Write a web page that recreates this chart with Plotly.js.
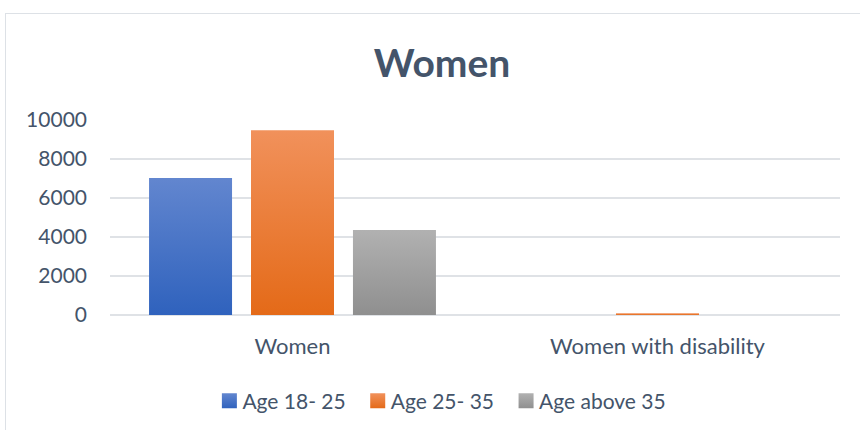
<!DOCTYPE html>
<html>
<head>
<meta charset="utf-8">
<script src="https://cdn.plot.ly/plotly-3.0.1.min.js"></script>
<style>
  body { margin: 0; overflow: hidden; background: #fff; }
  #graph { position: absolute; left: 0; top: 0; width: 860px; height: 430px; }
  #frame { position: absolute; left: 5px; top: 13px; width: 900px; height: 450px;
           border: 1.5px solid #dde1e6; pointer-events: none; }
</style>
</head>
<body>
<div id="graph"></div>
<div id="frame"></div>
<script>
const categories = ['Women', 'Women with disability'];
const seriesNames = ['Age 18- 25', 'Age 25- 35', 'Age above 35'];
const age18to25 = [7020, 5];
const age25to35 = [9480, 85];
const ageAbove35 = [4360, 5];
const yTicks = [0, 2000, 4000, 6000, 8000, 10000];
const yTickText = ['0', '2000', '4000', '6000', '8000', '10000'];

// top / bottom colours of each bar gradient
const gradients = [
    ['#6286cf', '#2f62bd'],
    ['#f1915b', '#e46a18'],
    ['#b1b1b1', '#8f8f8f']
];

const textColor = '#44546a';
const font = 'Lato, "Open Sans", sans-serif';

const values = [age18to25, age25to35, ageAbove35];
const traces = values.map((v, i) => ({
    type: 'bar',
    name: seriesNames[i],
    x: categories,
    y: v,
    marker: { color: gradients[i][1], line: { width: 0 } },
    hoverinfo: 'none'
}));

const layout = {
    width: 860,
    height: 430,
    paper_bgcolor: 'rgba(0,0,0,0)',
    plot_bgcolor: 'rgba(0,0,0,0)',
    margin: { l: 110, r: 20, t: 120, b: 115 },
    barmode: 'group',
    bargap: 0.162,
    bargroupgap: 0.186,
    font: { family: font, color: textColor, size: 21 },
    title: {
        text: '<b>Women</b>',
        font: { family: font, size: 39, color: textColor },
        x: 0.514, xref: 'container', xanchor: 'center',
        y: 0.853, yref: 'container', yanchor: 'middle'
    },
    xaxis: {
        showgrid: false,
        showline: false,
        ticks: '',
        ticklabelstandoff: 16,
        tickfont: { size: 22, color: textColor }
    },
    yaxis: {
        range: [0, 10000],
        tickvals: yTicks,
        ticktext: yTickText,
        showgrid: true,
        gridcolor: '#dfe2e6',
        gridwidth: 1.5,
        zeroline: true,
        zerolinecolor: '#dfe2e6',
        zerolinewidth: 1.5,
        showline: false,
        ticks: '',
        ticklabelstandoff: 22,
        tickfont: { size: 21, color: textColor }
    },
    showlegend: true,
    legend: {
        orientation: 'h',
        xref: 'container', x: 0.508, xanchor: 'center',
        yref: 'container', y: 0.067, yanchor: 'middle',
        font: { size: 21, color: textColor },
        itemwidth: 30,
        tracegroupgap: 0
    }
};

function addGradients(gd) {
    const svg = gd.querySelector('svg.main-svg');
    const ns = 'http://www.w3.org/2000/svg';
    let defs = svg.querySelector('defs');
    gradients.forEach((g, i) => {
        const lg = document.createElementNS(ns, 'linearGradient');
        lg.setAttribute('id', 'barGrad' + i);
        lg.setAttribute('x1', '0'); lg.setAttribute('y1', '0');
        lg.setAttribute('x2', '0'); lg.setAttribute('y2', '1');
        [[0, g[0]], [1, g[1]]].forEach(s => {
            const stop = document.createElementNS(ns, 'stop');
            stop.setAttribute('offset', s[0]);
            stop.setAttribute('stop-color', s[1]);
            lg.appendChild(stop);
        });
        defs.appendChild(lg);
    });
    gd.querySelectorAll('.barlayer .trace.bars').forEach((t, i) => {
        t.querySelectorAll('path').forEach(p => { p.style.fill = 'url(#barGrad' + i + ')'; });
    });
    // legend swatches: a bit larger, closer to the text, same gradient
    gd.querySelectorAll('.legend .traces').forEach((t, i) => {
        t.querySelectorAll('.legendpoints path').forEach(p => {
            p.style.fill = 'url(#barGrad' + i + ')';
            const tr = p.getAttribute('transform') || '';
            p.setAttribute('transform', tr + ' translate(7,0) scale(1.25)');
        });
    });
}

Plotly.newPlot('graph', traces, layout, { staticPlot: true }).then(addGradients);
</script>
</body>
</html>
